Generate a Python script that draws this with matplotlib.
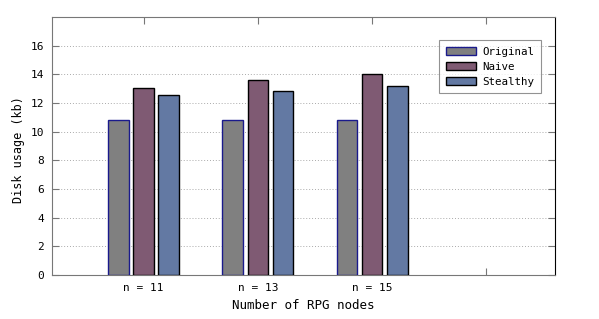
import numpy as np
import matplotlib.pyplot as plt

groups = ['n = 11', 'n = 13', 'n = 15']
original = [10.78, 10.78, 10.78]
naive = [13.07, 13.62, 14.05]
stealthy = [12.52, 12.83, 13.15]

plt.rcParams['font.family'] = 'DejaVu Sans Mono'
plt.rcParams['font.size'] = 8

fig = plt.figure(figsize=(5.99, 3.19), dpi=100)
ax = fig.add_axes([0.087, 0.138, 0.8395, 0.809])

x = np.arange(len(groups))
w = 0.18
ax.bar(x - 0.22, original, w, color='#808080', edgecolor='#1a1a8c', linewidth=1, label='Original', zorder=3)
ax.bar(x, naive, w, color='#7f5a73', edgecolor='black', linewidth=1, label='Naive', zorder=3)
ax.bar(x + 0.22, stealthy, w, color='#6379a3', edgecolor='black', linewidth=1, label='Stealthy', zorder=3)

ax.set_xlim(-0.8, 3.6)
ax.set_ylim(0, 18)
ax.set_xticks([0, 1, 2, 3])
ax.set_xticklabels(groups + [''])
ax.set_yticks(range(0, 17, 2))
ax.yaxis.grid(True, linestyle=(0, (1, 2)), color='#aaaaaa', linewidth=0.7)
ax.tick_params(axis='both', direction='in', length=5, color='#777777', top=True, right=True, pad=6)

for s in ['left', 'top', 'bottom']:
    ax.spines[s].set_color('#777777')
ax.spines['right'].set_color('black')

ax.set_xlabel('Number of RPG nodes', fontsize=9, labelpad=4)
ax.set_ylabel('Disk usage (kb)', fontsize=8.5)
ax.yaxis.set_label_coords(-0.054, 0.485)

leg = ax.legend(loc='upper right', bbox_to_anchor=(0.983, 0.93), fancybox=False, edgecolor='#777777',
                fontsize=7.8, handlelength=2.8, handleheight=0.8, borderpad=0.6, labelspacing=0.45,
                handletextpad=0.6)
leg.get_frame().set_linewidth(0.8)

fig.savefig('out.png', dpi=100)
